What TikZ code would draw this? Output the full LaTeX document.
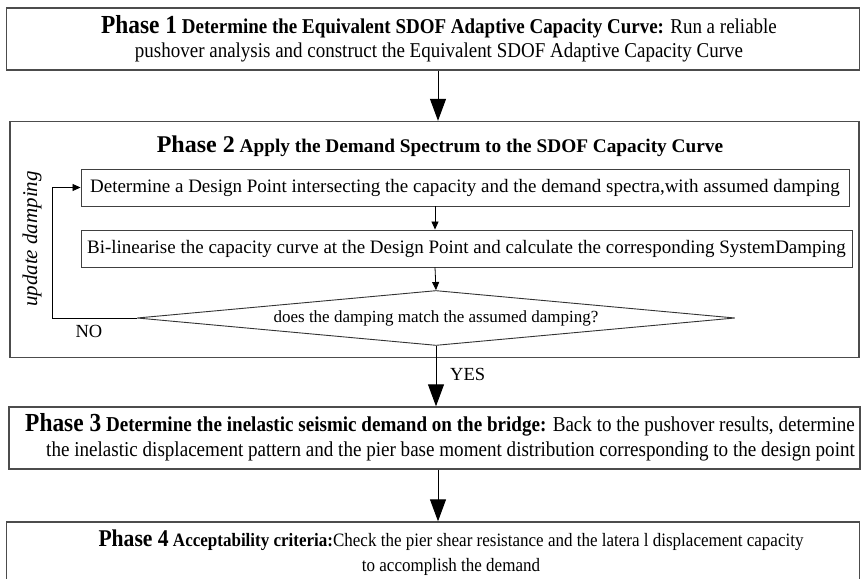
\documentclass[tikz,border=0pt]{standalone}
\usepackage{fontspec}
\setmainfont{Liberation Serif}
\newfontfamily\condfont[FakeStretch=0.9]{Liberation Serif}
\usetikzlibrary{arrows.meta,shapes.geometric}

\tikzset{
  phasebox/.style={draw=black!70, line width=1.4pt, rectangle, inner sep=0pt},
  stepbox/.style={draw=black!75, line width=0.9pt, rectangle, inner sep=0pt},
  decision/.style={draw=black!80, line width=0.9pt, diamond, inner sep=0pt, shape aspect=10.9},
  bigflow/.style={draw=black, line width=1pt, -{Triangle[length=22pt,width=16pt]}},
  smallflow/.style={draw=black, line width=0.8pt, -{Triangle[length=8pt,width=7pt]}},
  plain/.style={inner sep=0pt, align=center},
}

\begin{document}
\begin{tikzpicture}[x=1pt, y=-1pt]
\useasboundingbox (0,0) rectangle (861,578);

% outer phase frames
\node[phasebox, minimum width=853, minimum height=62] (p1) at (433,39) {};
\node[phasebox, minimum width=849, minimum height=236] (p2) at (434.5,239.5) {};
\node[phasebox, minimum width=851, minimum height=62] (p3) at (434.5,438) {};
\node[phasebox, minimum width=853, minimum height=70] (p4) at (433,557) {};

% phase 1 text
\node[plain, font=\condfont\fontsize{21.1}{24}\selectfont] (t1) at (439,39)
  {{\fontsize{26}{24}\selectfont\bfseries Phase 1} {\bfseries Determine the Equivalent SDOF Adaptive Capacity Curve:} Run a reliable\\
   pushover analysis and construct the Equivalent SDOF Adaptive Capacity Curve};

% phase 2 content
\node[plain, font=\fontsize{19.3}{22}\selectfont\bfseries] (t2) at (440,146)
  {{\fontsize{24}{22}\selectfont Phase 2} Apply the Demand Spectrum to the SDOF Capacity Curve};
\node[stepbox, minimum width=768, minimum height=37, font=\fontsize{19}{22}\selectfont] (b1) at (465,187.5)
  {Determine a Design Point intersecting the capacity and the demand spectra,with assumed damping};
\node[stepbox, minimum width=771, minimum height=37, font=\fontsize{19}{22}\selectfont] (b2) at (466.5,248.5)
  {Bi-linearise the capacity curve at the Design Point and calculate the corresponding SystemDamping};
\node[decision, minimum width=598, minimum height=55, font=\fontsize{17}{18}\selectfont] (d) at (436,318)
  {does the damping match the assumed damping?};

\node[plain, rotate=90, font=\itshape\fontsize{21}{22}\selectfont] (ud) at (32,239) {update damping};
\node[plain, font=\fontsize{18.5}{20}\selectfont] (no) at (89,331) {NO};
\node[plain, font=\fontsize{18.5}{20}\selectfont, anchor=west] (yes) at (450,374) {YES};

% phase 3 text
\node[plain, align=right, anchor=east, font=\condfont\fontsize{21.2}{25}\selectfont] (t3) at (855,437)
  {{\fontsize{26}{25}\selectfont\bfseries Phase 3} {\bfseries Determine the inelastic seismic demand on the bridge:} Back to the pushover results, determine\\
   the inelastic displacement pattern and the pier base moment distribution corresponding to the design point};

% phase 4 text
\node[plain, font=\condfont\fontsize{18.9}{25}\selectfont] (t4) at (451,553)
  {{\fontsize{24}{25}\selectfont\bfseries Phase 4} {\bfseries Acceptability criteria:}Check the pier shear resistance and the latera l displacement capacity\\
   to accomplish the demand};

% connectors
\coordinate (mx) at (438,0);
\coordinate (ix) at (435,0);
\coordinate (lx) at (52,0);
\draw[bigflow] (p1.south -| mx) -- (p2.north -| mx);
\draw[smallflow] (b1.south -| ix) -- (b2.north -| ix);
\draw[smallflow] (b2.south -| ix) -- (d.north);
\draw[smallflow] (d.west) -- (d.west -| lx) |- (b1.west);
\draw[bigflow] (d.south) -- (p3.north -| d.south);
\draw[bigflow] (p3.south -| mx) -- (p4.north -| mx);
\end{tikzpicture}
\end{document}
